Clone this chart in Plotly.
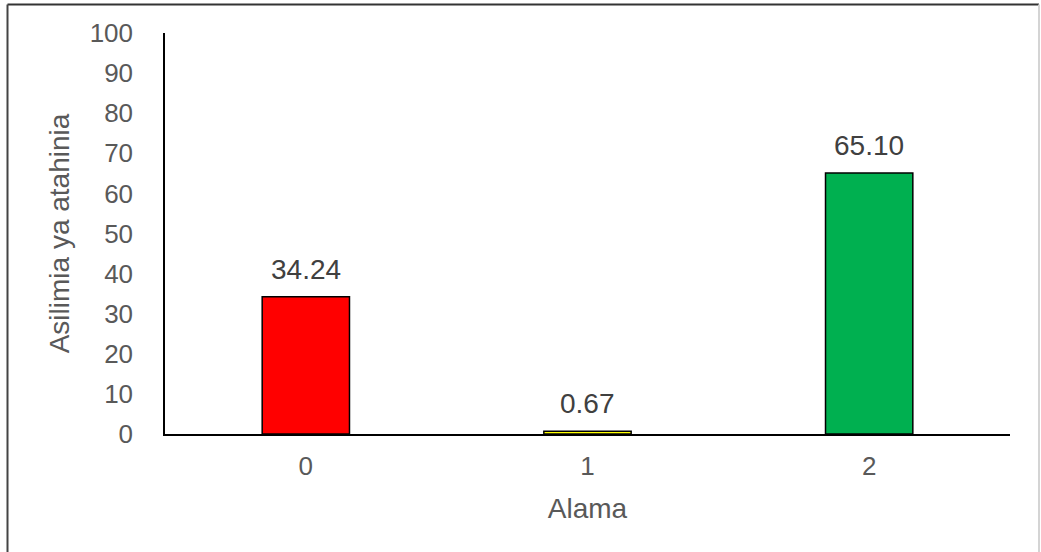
import plotly.graph_objects as go

categories = ["0", "1", "2"]
values = [34.24, 0.67, 65.10]
labels = ["34.24", "0.67", "65.10"]
colors = ["#FF0000", "#FFFF00", "#00B050"]
y_ticks = [0, 10, 20, 30, 40, 50, 60, 70, 80, 90, 100]

FONT = "Liberation Sans, Arial, sans-serif"
GRAY = "#595959"

fig = go.Figure(go.Bar(
    x=categories, y=values,
    marker=dict(color=colors, line=dict(color="#000000", width=1.5)),
    width=0.31,
))

for c, v, t in zip(categories, values, labels):
    fig.add_annotation(x=c, y=v, text=t, showarrow=False, yanchor="bottom",
                       yshift=10, font=dict(family=FONT, size=28, color="#404040"))

# outer frame
L = (7.5 - 165) / 845
R = (1039 - 165) / 845
T = (434 - 4.5) / 401
B = (434 - 552) / 401
fig.add_shape(type="line", xref="paper", yref="paper", x0=L, x1=R, y0=T, y1=T,
              line=dict(color="#333333", width=2))
fig.add_shape(type="line", xref="paper", yref="paper", x0=L, x1=L, y0=B, y1=T,
              line=dict(color="#444444", width=2))
fig.add_shape(type="line", xref="paper", yref="paper", x0=R, x1=R, y0=B, y1=T,
              line=dict(color="#D4D4D4", width=2))

fig.update_layout(
    width=1041, height=552,
    margin=dict(l=165, r=31, t=33, b=118),
    paper_bgcolor="white", plot_bgcolor="white",
    showlegend=False,
    font=dict(family=FONT, size=26, color=GRAY),
    xaxis=dict(
        type="category",
        showline=True, linecolor="#000000", linewidth=1.5,
        ticks="outside", ticklen=8, tickcolor="rgba(0,0,0,0)",
        tickfont=dict(size=26, color=GRAY),
        title=dict(text="Alama", font=dict(size=28, color=GRAY), standoff=18),
        showgrid=False, zeroline=False,
    ),
    yaxis=dict(
        range=[0, 100], tickvals=y_ticks,
        showline=True, linecolor="#000000", linewidth=1.5,
        ticks="outside", ticklen=25, tickcolor="rgba(0,0,0,0)",
        tickfont=dict(size=26, color=GRAY),
        title=dict(text="Asilimia ya atahinia", font=dict(size=28, color=GRAY), standoff=12),
        showgrid=False, zeroline=False,
    ),
)

fig.write_html("out.html", config={"displayModeBar": False},
               post_script="document.body.style.margin='0';")
